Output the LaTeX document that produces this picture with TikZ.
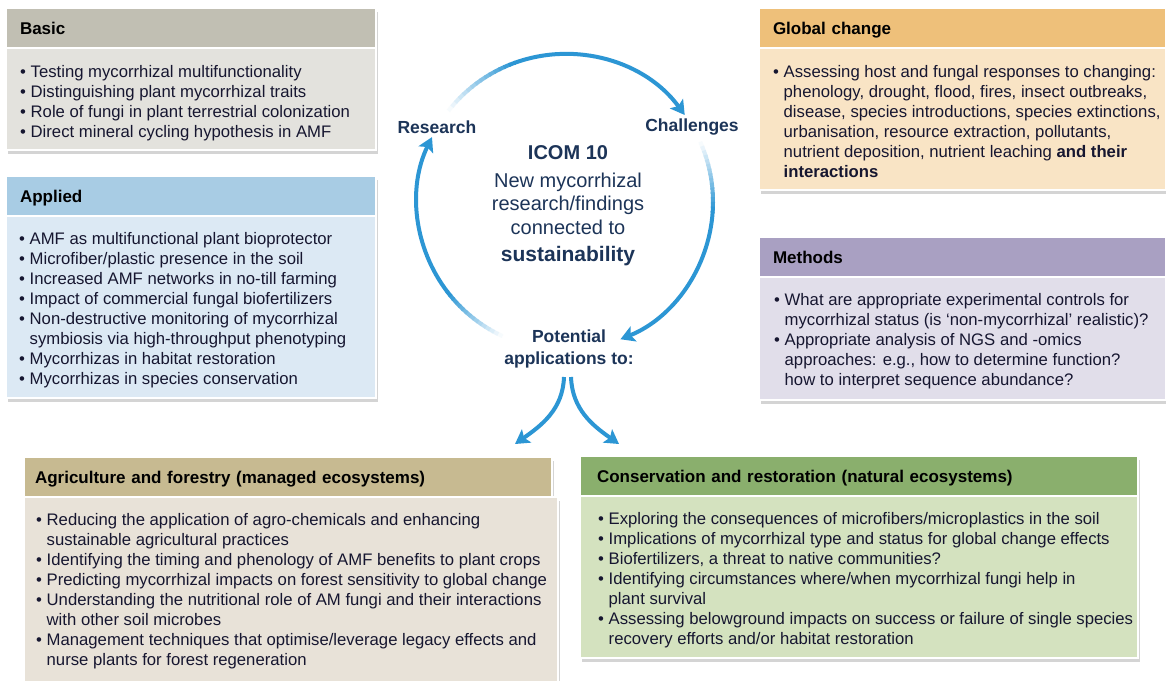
\documentclass[tikz,border=0pt]{standalone}
\usepackage{fontspec}
\setmainfont{Liberation Sans}
\usepackage{xcolor}
\usetikzlibrary{arrows.meta,positioning,shadows}
\definecolor{hBas}{RGB}{193,191,179}
\definecolor{fBas}{RGB}{227,226,221}
\definecolor{hApp}{RGB}{168,204,228}
\definecolor{fApp}{RGB}{220,233,244}
\definecolor{hGlo}{RGB}{238,192,122}
\definecolor{fGlo}{RGB}{249,228,197}
\definecolor{hMet}{RGB}{169,160,194}
\definecolor{fMet}{RGB}{225,222,234}
\definecolor{hAgr}{RGB}{199,186,145}
\definecolor{fAgr}{RGB}{232,226,216}
\definecolor{hCon}{RGB}{138,175,109}
\definecolor{fCon}{RGB}{212,226,191}
\definecolor{aBlue}{RGB}{44,150,212}
\definecolor{dNavy}{RGB}{28,52,88}
\definecolor{tInk}{RGB}{22,22,48}
\newcommand{\bul}{\textbullet\ }
\newcommand{\indt}{\hphantom{\textbullet\ }}
% arc of the ring, fading in from white at its start
\newcommand{\fadearc}[2]{%
  \foreach \k in {0,...,14}{%
    \pgfmathsetmacro{\angA}{(#1)+((#2)-(#1))*0.3*\k/15}%
    \pgfmathsetmacro{\angB}{(#1)+((#2)-(#1))*0.3*(\k+1)/15-0.6}%
    \pgfmathtruncatemacro{\pcnt}{4+96*\k/14}%
    \draw[ring,draw=aBlue!\pcnt!white] (ctr) ++(\angA:\R pt) arc[start angle=\angA,end angle=\angB,radius=\R pt];
  }%
  \pgfmathsetmacro{\angC}{(#1)+((#2)-(#1))*0.3}%
  \draw[ring,tip] (ctr) ++(\angC:\R pt) arc[start angle=\angC,end angle=#2,radius=\R pt];
}

\begin{document}
\begin{tikzpicture}[x=1pt,y=1pt,font=\fontsize{16.7}{20}\selectfont,text=tInk,
  sh/.style={drop shadow={shadow xshift=2pt,shadow yshift=-4pt,opacity=.3,fill=black!55}},
  hd/.style={sh,draw=white,line width=1.5pt,outer sep=0pt,anchor=north west,minimum height=40pt,inner xsep=14pt,inner ysep=0pt,align=left,text height=12.5pt,text depth=0pt,font=\fontsize{17}{20}\selectfont\bfseries,text=black},
  bd/.style={sh,draw=white,line width=1.5pt,outer sep=0pt,anchor=north west,inner sep=0pt},
  tx/.style={anchor=north west,inner sep=0pt,align=left,execute at begin node=\strut},
  lab/.style={font=\fontsize{17.5}{22}\selectfont\bfseries,text=dNavy,align=center},
  ring/.style={line width=4pt,draw=aBlue},
  tip/.style={-{Stealth[length=14pt,width=16pt,inset=3pt]}}]
\path[fill=white,use as bounding box] (0,0) rectangle (1166,-680);
\def\R{148}
\coordinate (ctr) at (565,-202);
% left column
\node[hd,fill=hBas,text width=342pt] (basH) at (6,-8) {Basic};
\node[bd,fill=fBas,minimum width=370pt,minimum height=102pt] (basB) at (basH.south west) {};
\node[tx] (basT) at (20,-65.5) {\bul Testing mycorrhizal multifunctionality\\
  \bul Distinguishing plant mycorrhizal traits\\
  \bul Role of fungi in plant terrestrial colonization\\
  \bul Direct mineral cycling hypothesis in AMF};
\node[hd,fill=hApp,text width=342pt] (appH) at (6,-176) {Applied};
\node[bd,fill=fApp,minimum width=370pt,minimum height=182pt] (appB) at (appH.south west) {};
\node[tx] (appT) at (19,-232.5) {\bul AMF as multifunctional plant bioprotector\\
  \bul Microfiber/plastic presence in the soil\\
  \bul Increased AMF networks in no-till farming\\
  \bul Impact of commercial fungal biofertilizers\\
  \bul Non-destructive monitoring of mycorrhizal\\
  \indt symbiosis via high-throughput phenotyping\\
  \bul Mycorrhizas in habitat restoration\\
  \bul Mycorrhizas in species conservation};
% right column
\node[hd,fill=hGlo,text width=379pt] (gloH) at (759,-8) {Global change};
\node[bd,fill=fGlo,minimum width=407pt,minimum height=142pt] (gloB) at (gloH.south west) {};
\node[tx] (gloT) at (773,-65.5) {\bul Assessing host and fungal responses to changing:\\
  \indt phenology, drought, flood, fires, insect outbreaks,\\
  \indt disease, species introductions, species extinctions,\\
  \indt urbanisation, resource extraction, pollutants,\\
  \indt nutrient deposition, nutrient leaching \textbf{and their}\\
  \indt \textbf{interactions}};
\node[hd,fill=hMet,text width=379pt] (metH) at (759,-237) {Methods};
\node[bd,fill=fMet,minimum width=407pt,minimum height=123pt] (metB) at (metH.south west) {};
\node[tx] (metT) at (774,-293.5) {\bul What are appropriate experimental controls for\\
  \indt mycorrhizal status (is ‘non-mycorrhizal’ realistic)?\\
  \bul Appropriate analysis of NGS and -omics\\
  \indt approaches: e.g., how to determine function?\\
  \indt how to interpret sequence abundance?};
% bottom row
\node[hd,fill=hAgr,text width=506pt,inner xsep=11pt] (agrH) at (24,-457) {Agriculture and forestry (managed ecosystems)};
\node[bd,fill=fAgr,minimum width=534pt,minimum height=190pt] (agrB) at (agrH.south west) {};
\node[tx] (agrT) at (36,-513.5) {\bul Reducing the application of agro-chemicals and enhancing\\
  \indt sustainable agricultural practices\\
  \bul Identifying the timing and phenology of AMF benefits to plant crops\\
  \bul Predicting mycorrhizal impacts on forest sensitivity to global change\\
  \bul Understanding the nutritional role of AM fungi and their interactions\\
  \indt with other soil microbes\\
  \bul Management techniques that optimise/leverage legacy effects and\\
  \indt nurse plants for forest regeneration};
\node[hd,fill=hCon,text width=524pt,inner xsep=17pt] (conH) at (580,-456) {Conservation and restoration (natural ecosystems)};
\node[bd,fill=fCon,minimum width=558pt,minimum height=162pt] (conB) at (conH.south west) {};
\node[tx] (conT) at (598,-512.5) {\bul Exploring the consequences of microfibers/microplastics in the soil\\
  \bul Implications of mycorrhizal type and status for global change effects\\
  \bul Biofertilizers, a threat to native communities?\\
  \bul Identifying circumstances where/when mycorrhizal fungi help in\\
  \indt plant survival\\
  \bul Assessing belowground impacts on success or failure of single species\\
  \indt recovery efforts and/or habitat restoration};
% centre ring
\node[align=center,text=dNavy,font=\fontsize{20}{23.5}\selectfont] (icom) at (568,-206)
  {\textbf{ICOM 10}\\[4pt]New mycorrhizal\\research/findings\\connected to\\[4pt]{\fontsize{21}{24}\selectfont\bfseries sustainability}};
\node[lab] (res) at (437,-127) {Research};
\node[lab] (cha) at (692,-127) {Challenges};
\node[lab] (pot) at (569,-349) {Potential\\applications to:};
\fadearc{142}{36}
\fadearc{24}{-68}
\fadearc{-115}{-206}
\coordinate (forkL) at (564,-377);
\coordinate (forkR) at (571,-377);
\coordinate (tipL) at (515,-444);
\coordinate (tipR) at (619,-444);
\draw[ring,tip] (forkL) to[out=-92,in=35] (tipL);
\draw[ring,tip] (forkR) to[out=-88,in=145] (tipR);
\end{tikzpicture}
\end{document}
